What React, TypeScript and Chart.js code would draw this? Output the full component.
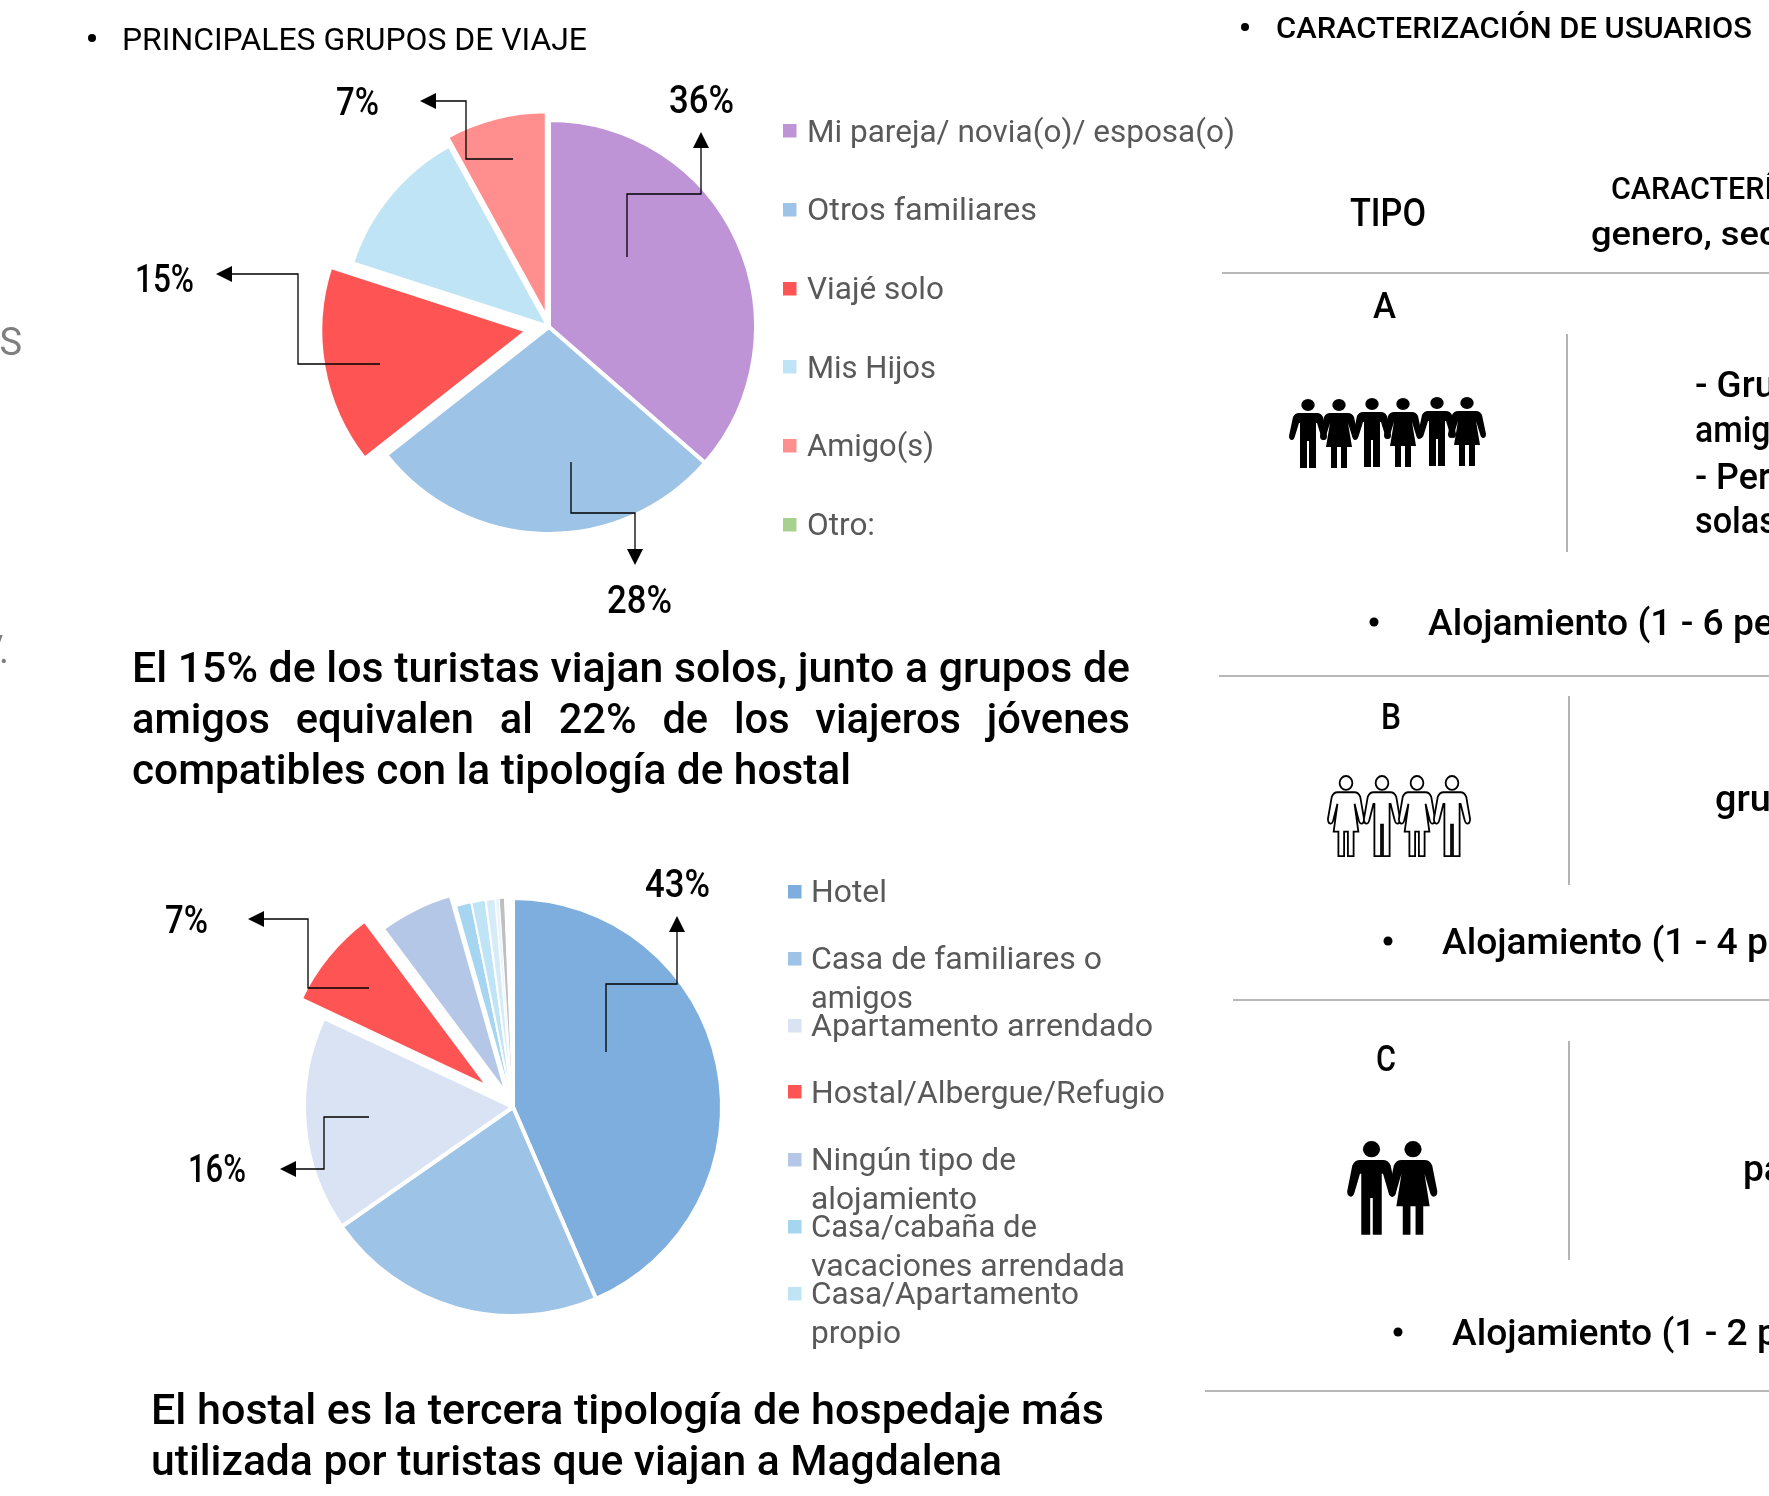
import React, { useEffect, useRef } from "react";
import { Chart, registerables } from "chart.js";

Chart.register(...registerables);

const FONT = "Roboto, 'Noto Sans', sans-serif";

// ---- Chart 1: Principales grupos de viaje
const groupLabels = ["Mi pareja/ novia(o)/ esposa(o)", "Otros familiares", "Viajé solo", "Mis Hijos", "Amigo(s)", "Otro:"];
const groupValues = [36.4, 28, 15.6, 12, 8, 0];
const groupColors = ["#BF94D6", "#9DC3E6", "#FF5454", "#BFE4F5", "#FF8F8F", "#A9D18E"];
const groupOffsets = [0, 0, 22, 0, 9, 0];

// ---- Chart 2: Tipologia de hospedaje
const lodgingLabels = [
  "Hotel", "Casa de familiares o amigos", "Apartamento arrendado", "Hostal/Albergue/Refugio",
  "Ningún tipo de alojamiento", "Casa/cabaña de vacaciones arrendada", "Casa/Apartamento propio",
  "", "", "", "",
];
const lodgingValues = [43.5, 21.8, 16.7, 7.8, 5.8, 1.2, 1.1, 0.75, 0.3, 0.4, 0.65];
const lodgingColors = ["#7DAEDD", "#9DC3E6", "#DAE3F3", "#FF5454", "#B4C7E7", "#A5D5F0", "#BFE4F5", "#D5ECF8", "#EAF5FB", "#BFBFBF", "#FFFFFF"];
const lodgingOffsets = [0, 0, 0, 30, 12, 0, 0, 0, 0, 0, 0];
const lodgingBorders = [4, 4, 4, 4, 4, 2, 2, 2, 1, 1, 0];

type Row = { t: string; x: number; y: number; w: number };
type PieSpec = { left: number; top: number; size: number; radius: number; labels: string[]; values: number[]; colors: string[]; offsets: number[]; borders: number | number[] };

const pies: PieSpec[] = [
  { left: 289, top: 67, size: 520, radius: 207, labels: groupLabels, values: groupValues, colors: groupColors, offsets: groupOffsets, borders: 4 },
  { left: 253, top: 847, size: 520, radius: 209, labels: lodgingLabels, values: lodgingValues, colors: lodgingColors, offsets: lodgingOffsets, borders: lodgingBorders },
];

const legendGroupRows: Row[] = [
  { t: groupLabels[0], x: 807, y: 142, w: 428 },
  { t: groupLabels[1], x: 807, y: 220, w: 230 },
  { t: groupLabels[2], x: 807, y: 299, w: 137 },
  { t: groupLabels[3], x: 807, y: 378, w: 129 },
  { t: groupLabels[4], x: 807, y: 456, w: 127 },
  { t: groupLabels[5], x: 807, y: 535, w: 68 },
];
const legendGroupSwatchY = [124, 203, 282, 360, 439, 518];

const legendLodgingRows: Row[] = [
  { t: "Hotel", x: 811, y: 902, w: 76 },
  { t: "Casa de familiares o", x: 811, y: 969, w: 291 },
  { t: "amigos", x: 811, y: 1008, w: 102 },
  { t: "Apartamento arrendado", x: 811, y: 1036, w: 342 },
  { t: "Hostal/Albergue/Refugio", x: 811, y: 1103, w: 354 },
  { t: "Ningún tipo de", x: 811, y: 1170, w: 205 },
  { t: "alojamiento", x: 811, y: 1209, w: 166 },
  { t: "Casa/cabaña de", x: 811, y: 1237, w: 226 },
  { t: "vacaciones arrendada", x: 811, y: 1276, w: 314 },
  { t: "Casa/Apartamento", x: 811, y: 1304, w: 268 },
  { t: "propio", x: 811, y: 1343, w: 90 },
];
const legendLodgingSwatchY = [885, 952, 1019, 1085, 1153, 1220, 1287];

const percentRows: Row[] = [
  { t: "36%", x: 669, y: 113, w: 65 },
  { t: "7%", x: 336, y: 115, w: 43 },
  { t: "15%", x: 135, y: 292, w: 59 },
  { t: "28%", x: 607, y: 613, w: 65 },
  { t: "43%", x: 645, y: 897, w: 65 },
  { t: "7%", x: 165, y: 933, w: 43 },
  { t: "16%", x: 188, y: 1182, w: 58 },
];

// Leader lines: path points, last one is the arrow tip
const leaders: number[][][] = [
  [[627, 257], [627, 194], [701, 194], [701, 132]],
  [[513, 159], [466, 159], [466, 101], [420, 101]],
  [[380, 364], [298, 364], [298, 274], [216, 274]],
  [[571, 462], [571, 513], [635, 513], [635, 565]],
  [[606, 1052], [606, 984], [677, 984], [677, 916]],
  [[369, 988], [308, 988], [308, 919], [248, 919]],
  [[369, 1117], [324, 1117], [324, 1169], [280, 1169]],
];

const paragraphRows: (Row & { ws?: number })[] = [
  { t: "El 15% de los turistas viajan solos, junto a grupos de", x: 132, y: 682, w: 998 },
  { t: "amigos equivalen al 22% de los viajeros jóvenes", x: 132, y: 733, w: 998, ws: 16 },
  { t: "compatibles con la tipología de hostal", x: 132, y: 784, w: 719 },
  { t: "El hostal es la tercera tipología de hospedaje más", x: 151, y: 1424, w: 953 },
  { t: "utilizada por turistas que viajan a Magdalena", x: 151, y: 1475, w: 851 },
];

const rightRows: (Row & { size: number })[] = [
  { t: "TIPO", x: 1350, y: 226, w: 76, size: 38 },
  { t: "CARACTERÍSTICAS", x: 1611, y: 199, w: 266, size: 31 },
  { t: "genero, sector", x: 1591, y: 245, w: 232, size: 34 },
  { t: "A", x: 1373, y: 318, w: 23, size: 36 },
  { t: "- Grupos de", x: 1695, y: 397, w: 190, size: 36 },
  { t: "amigos", x: 1695, y: 442, w: 112, size: 36 },
  { t: "- Personas", x: 1695, y: 489, w: 172, size: 36 },
  { t: "solas", x: 1695, y: 533, w: 82, size: 36 },
  { t: "Alojamiento (1 - 6 personas)", x: 1428, y: 635, w: 472, size: 36 },
  { t: "B", x: 1381, y: 729, w: 20, size: 36 },
  { t: "grupos", x: 1715, y: 811, w: 118, size: 36 },
  { t: "Alojamiento (1 - 4 personas)", x: 1442, y: 954, w: 472, size: 36 },
  { t: "C", x: 1376, y: 1071, w: 20, size: 36 },
  { t: "parejas", x: 1743, y: 1181, w: 122, size: 36 },
  { t: "Alojamiento (1 - 2 personas)", x: 1452, y: 1345, w: 472, size: 36 },
];
const rightBullets = [[1374, 622], [1388, 941], [1398, 1332]];
const ruleLines = [[1222, 273, 1769, 273], [1219, 676, 1769, 676], [1233, 1000, 1769, 1000], [1205, 1391, 1769, 1391]];
const dividerLines = [[1567, 334, 1567, 552], [1569, 696, 1569, 885], [1569, 1041, 1569, 1260]];

const MAN = "M-9 14 Q-13 14 -15 18 L-19 37 Q-19 41 -16 41 Q-14 41 -13 37 L-9 24 L-8 24 L-8 69 L-1 69 L-1 42 L1 42 L1 69 L8 69 L8 24 L9 24 L13 37 Q14 41 16 41 Q19 41 19 37 L15 18 Q13 14 9 14 Z";
const WOMAN = "M-9 14 Q-13 14 -15 18 L-19 37 Q-19 41 -16 41 Q-14 41 -13 37 L-9 24 L-13 48 L-8 48 L-8 69 L-2 69 L-2 48 L2 48 L2 69 L8 69 L8 48 L13 48 L9 24 L13 37 Q14 41 16 41 Q19 41 19 37 L15 18 Q13 14 9 14 Z";

type Fig = { x: number; y: number; sx: number; sy: number; woman: boolean; outline?: boolean };
const figures: Fig[] = [
  { x: 1308, y: 399, sx: 1, sy: 1, woman: false },
  { x: 1339, y: 399, sx: 1, sy: 1, woman: true },
  { x: 1372, y: 398, sx: 1, sy: 1, woman: false },
  { x: 1403, y: 398, sx: 1, sy: 1, woman: true },
  { x: 1437, y: 397, sx: 1, sy: 1, woman: false },
  { x: 1467, y: 397, sx: 1, sy: 1, woman: true },
  { x: 1346, y: 776, sx: 0.95, sy: 1.16, woman: true, outline: true },
  { x: 1382, y: 776, sx: 0.95, sy: 1.16, woman: false, outline: true },
  { x: 1417, y: 776, sx: 0.95, sy: 1.16, woman: true, outline: true },
  { x: 1452, y: 776, sx: 0.95, sy: 1.16, woman: false, outline: true },
  { x: 1371.5, y: 1141, sx: 1.28, sy: 1.36, woman: false },
  { x: 1413, y: 1141, sx: 1.28, sy: 1.36, woman: true },
];

function Txt({ r, size, weight = 400, fill = "#000", ws }: { r: Row; size: number; weight?: number; fill?: string; ws?: number }) {
  return (
    <text x={r.x} y={r.y} textLength={r.w} lengthAdjust="spacingAndGlyphs" fontFamily={FONT} fontSize={size} fontWeight={weight} fill={fill} wordSpacing={ws}>
      {r.t}
    </text>
  );
}

function Pie({ spec }: { spec: PieSpec }) {
  const ref = useRef<HTMLCanvasElement>(null);
  useEffect(() => {
    // Pull slices out radially, keeping their radius (the built-in `offset` also grows them).
    const explode = {
      id: "explode",
      afterDatasetUpdate(chart: any) {
        chart.getDatasetMeta(0).data.forEach((arc: any, i: number) => {
          const mid = (arc.startAngle + arc.endAngle) / 2;
          arc.x += Math.cos(mid) * spec.offsets[i];
          arc.y += Math.sin(mid) * spec.offsets[i];
        });
      },
    };
    const chart = new Chart(ref.current!, {
      type: "pie",
      data: {
        labels: spec.labels,
        datasets: [{
          data: spec.values,
          backgroundColor: spec.colors,
          borderColor: "#FFFFFF",
          borderWidth: spec.borders,
        }],
      },
      options: {
        responsive: false,
        animation: false,
        radius: spec.radius,
        layout: { padding: 0 },
        plugins: { legend: { display: false }, tooltip: { enabled: false }, title: { display: false } },
      } as any,
      plugins: [explode],
    });
    return () => chart.destroy();
  }, [spec]);
  return <canvas ref={ref} width={spec.size} height={spec.size} style={{ position: "absolute", left: spec.left, top: spec.top, width: spec.size, height: spec.size }} />;
}

function arrowHead(pts: number[][]) {
  const [a, b] = [pts[pts.length - 2], pts[pts.length - 1]];
  const dx = Math.sign(b[0] - a[0]);
  const dy = Math.sign(b[1] - a[1]);
  const L = 16, W = 8;
  return `${b[0]},${b[1]} ${b[0] - dx * L - dy * W},${b[1] - dy * L - dx * W} ${b[0] - dx * L + dy * W},${b[1] - dy * L + dx * W}`;
}

export default function App() {
  useEffect(() => {
    document.body.style.margin = "0";
    document.body.style.background = "#FFFFFF";
    document.documentElement.style.overflow = "hidden";
  }, []);
  return (
    <div style={{ position: "relative", width: 1769, height: 1496, overflow: "hidden", background: "#FFFFFF" }}>
      {pies.map((p, i) => <Pie key={i} spec={p} />)}
      <svg width={1769} height={1496} style={{ position: "absolute", left: 0, top: 0 }}>
        {/* cut-off neighbours on the left edge */}
        <text x={22} y={355} textAnchor="end" fontFamily={FONT} fontSize={38} fill="#7F7F7F">S</text>
        <text x={9} y={663} textAnchor="end" fontFamily={FONT} fontSize={38} fill="#7F7F7F">V.</text>

        {/* headings */}
        <circle cx={92} cy={38} r={4} fill="#000" />
        <Txt r={{ t: "PRINCIPALES GRUPOS DE VIAJE", x: 122, y: 50, w: 465 }} size={31} />
        <circle cx={1245} cy={27} r={4} fill="#000" />
        <Txt r={{ t: "CARACTERIZACIÓN DE USUARIOS", x: 1276, y: 38, w: 476 }} size={29} weight={500} />

        {/* legends */}
        {legendGroupSwatchY.map((y, i) => <rect key={i} x={783} y={y} width={13.5} height={13.5} fill={groupColors[i]} />)}
        {legendGroupRows.map((r, i) => <Txt key={i} r={r} size={31} fill="#595959" />)}
        {legendLodgingSwatchY.map((y, i) => <rect key={i} x={788} y={y} width={13.5} height={13.5} fill={lodgingColors[i]} />)}
        {legendLodgingRows.map((r, i) => <Txt key={i} r={r} size={31} fill="#595959" />)}

        {/* leader lines */}
        {leaders.map((pts, i) => {
          const a = pts[pts.length - 2], b = pts[pts.length - 1];
          const end = [b[0] - Math.sign(b[0] - a[0]) * 10, b[1] - Math.sign(b[1] - a[1]) * 10];
          const line = [...pts.slice(0, -1), end].map((p) => p.join(",")).join(" ");
          return (
            <g key={i}>
              <polyline points={line} fill="none" stroke="#000" strokeWidth={1.3} />
              <polygon points={arrowHead(pts)} fill="#000" />
            </g>
          );
        })}
        {percentRows.map((r, i) => <Txt key={i} r={r} size={38} weight={500} />)}

        {/* paragraphs */}
        {paragraphRows.map((r, i) => <Txt key={i} r={r} size={43} weight={500} ws={r.ws} />)}

        {/* table */}
        {ruleLines.map((l, i) => <line key={i} x1={l[0]} y1={l[1]} x2={l[2]} y2={l[3]} stroke="#A0A0A0" strokeWidth={1.6} />)}
        {dividerLines.map((l, i) => <line key={i} x1={l[0]} y1={l[1]} x2={l[2]} y2={l[3]} stroke="#A0A0A0" strokeWidth={1.6} />)}
        {rightBullets.map((b, i) => <circle key={i} cx={b[0]} cy={b[1]} r={4.5} fill="#000" />)}
        {rightRows.map((r, i) => <Txt key={i} r={r} size={r.size} weight={500} />)}
        {figures.map((f, i) => (
          <g key={i} transform={`translate(${f.x} ${f.y}) scale(${f.sx} ${f.sy})`}>
            <ellipse cx={0} cy={6} rx={6.7} ry={6} fill={f.outline ? "#FFF" : "#000"} stroke={f.outline ? "#000" : "none"} strokeWidth={1.8} vectorEffect="non-scaling-stroke" />
            <path d={f.woman ? WOMAN : MAN} fill={f.outline ? "#FFF" : "#000"} stroke={f.outline ? "#000" : "none"} strokeWidth={1.8} vectorEffect="non-scaling-stroke" />
          </g>
        ))}
      </svg>
    </div>
  );
}
